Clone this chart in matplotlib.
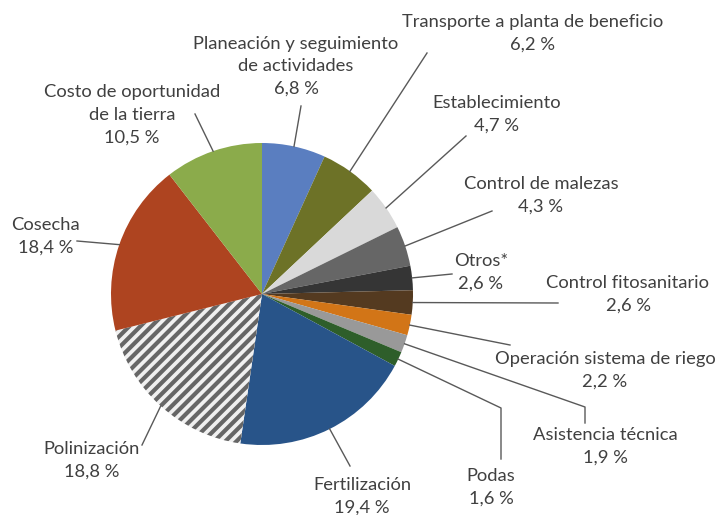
import numpy as np
import matplotlib
matplotlib.use("Agg")
import matplotlib.pyplot as plt

# Data (clockwise from top)
labels = [
    "Planeación y seguimiento\nde actividades",
    "Transporte a planta de beneficio",
    "Establecimiento",
    "Control de malezas",
    "Otros*",
    "Control fitosanitario",
    "Operación sistema de riego",
    "Asistencia técnica",
    "Podas",
    "Fertilización",
    "Polinización",
    "Cosecha",
    "Costo de oportunidad\nde la tierra",
]
shares = [6.8, 6.2, 4.7, 4.3, 2.6, 2.6, 2.2, 1.9, 1.6, 19.4, 18.8, 18.4, 10.5]
colors = ["#5A7EC0", "#6D7227", "#D9D9D9", "#666666", "#353535", "#543A20",
          "#D27517", "#999999", "#2E5E2A", "#285489", "#F0F0F0", "#AE4420",
          "#8BAB4B"]

# label text centre (pixels) and where the leader line stops
label_pos = [(296, 66), (533, 33), (497, 114), (541, 195), (481, 272),
             (628, 294), (605, 370), (605, 446), (491, 487), (362, 496),
             (92, 460), (46, 236), (132, 115)]
line_end = [[(301, 106)], [(427, 53)], [(466, 136)], [(492, 211)], [(452, 274)],
            [(558, 303)], [(510, 345)], [(585, 407), (585, 423)],
            [(501, 408), (501, 459)], [(350, 466)], [(142, 445)], [(77, 241)],
            [(195, 114)]]

plt.rcParams["font.family"] = ["Lato", "DejaVu Sans"]
plt.rcParams["hatch.linewidth"] = 3.0

fig = plt.figure(figsize=(7.18, 5.15), dpi=100)
ax = fig.add_axes([0, 0, 1, 1])

cx, cy, r = 262, 294, 151
wedges, _ = ax.pie(shares, colors=colors, startangle=-90, counterclock=True,
                   center=(cx, cy), radius=r, wedgeprops=dict(linewidth=0))

# Polinización is white with grey stripes
wedges[10].set_hatch("///")
wedges[10].set_edgecolor("#666666")
wedges[10].set_linewidth(0)

ax.set_xlim(0, 718)
ax.set_ylim(515, 0)
ax.set_aspect("equal")
ax.axis("off")

cum = np.cumsum([0] + shares[:-1])
for i, lab in enumerate(labels):
    ang = np.deg2rad(-90 + 3.6 * (cum[i] + shares[i] / 2))
    x0, y0 = cx + r * np.cos(ang), cy + r * np.sin(ang)
    pts = [(x0, y0)] + line_end[i]
    ax.plot([p[0] for p in pts], [p[1] for p in pts], color="#595959", lw=1.0)
    txt = lab + "\n" + f"{shares[i]:.1f}".replace(".", ",") + " %"
    ax.text(label_pos[i][0], label_pos[i][1], txt, ha="center", va="center",
            fontsize=13.2, color="#404040", linespacing=1.5)

fig.savefig("out.png", dpi=100)
